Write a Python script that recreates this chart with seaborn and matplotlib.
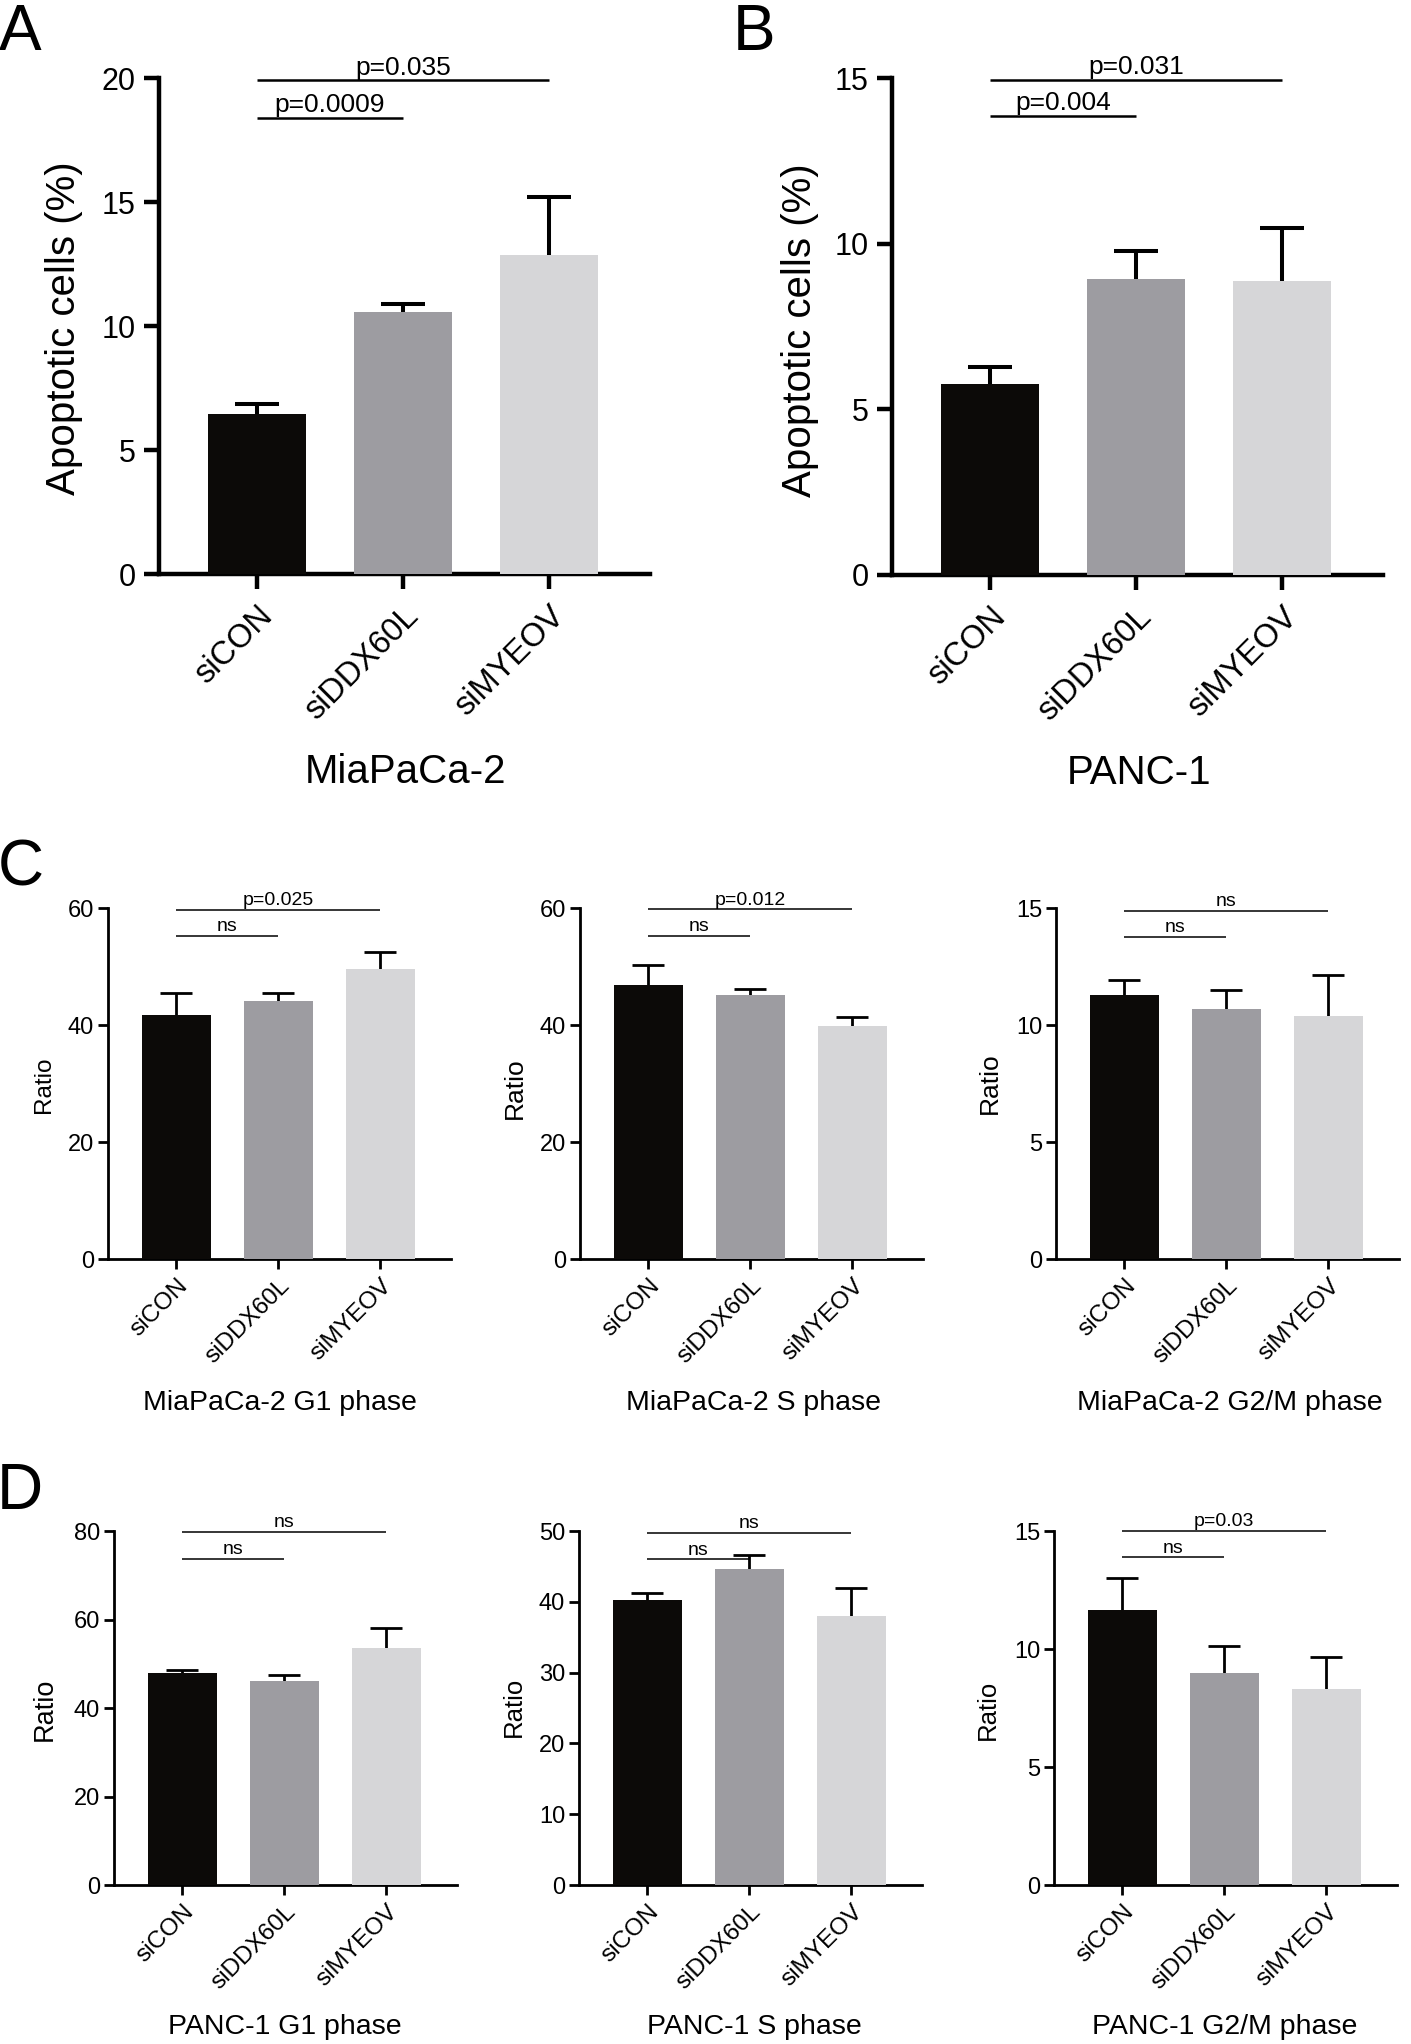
import matplotlib
matplotlib.use("Agg")
import matplotlib.pyplot as plt
import seaborn as sns
import pandas as pd

sns.set_theme(style="ticks")
plt.rcParams["font.family"] = ["Liberation Sans", "DejaVu Sans"]
plt.rcParams.update({"axes.edgecolor": "black", "text.color": "black",
                     "xtick.color": "black", "ytick.color": "black",
                     "axes.labelcolor": "black"})

# ---------------- data ----------------
groups = ["siCON", "siDDX60L", "siMYEOV"]
colors = ["#0c0a08", "#9d9ca1", "#d6d6d8"]

a_mean = [6.45, 10.57, 12.88]
a_err = [0.40, 0.32, 2.32]
a_sig = [("p=0.0009", 1, 18.4), ("p=0.035", 2, 19.9)]

b_mean = [5.77, 8.94, 8.88]
b_err = [0.50, 0.83, 1.60]
b_sig = [("p=0.004", 1, 13.85), ("p=0.031", 2, 14.95)]

c1_mean = [41.7, 44.1, 49.5]
c1_err = [3.7, 1.4, 3.0]
c1_sig = [("ns", 1, 55.2), ("p=0.025", 2, 59.7)]

c2_mean = [46.9, 45.1, 39.8]
c2_err = [3.3, 1.0, 1.5]
c2_sig = [("ns", 1, 55.2), ("p=0.012", 2, 59.75)]

c3_mean = [11.27, 10.67, 10.39]
c3_err = [0.66, 0.82, 1.73]
c3_sig = [("ns", 1, 13.77), ("ns", 2, 14.89)]

d1_mean = [47.8, 46.1, 53.5]
d1_err = [0.9, 1.3, 4.5]
d1_sig = [("ns", 1, 73.7), ("ns", 2, 79.8)]

d2_mean = [40.3, 44.6, 38.0]
d2_err = [0.9, 2.0, 4.0]
d2_sig = [("ns", 1, 46.0), ("ns", 2, 49.7)]

d3_mean = [11.64, 8.97, 8.30]
d3_err = [1.38, 1.14, 1.34]
d3_sig = [("ns", 1, 13.88), ("p=0.03", 2, 15.0)]

# ---------------- layout ----------------
W, H = 1411, 2044
fig = plt.figure(figsize=(W / 100, H / 100), dpi=100)
fig.patch.set_facecolor("white")

XL = (-0.67, 2.69)


def add_ax(left, top, bottom, unit):
    width = (XL[1] - XL[0]) * unit
    return fig.add_axes([left / W, 1 - bottom / H, width / W, (bottom - top) / H])


def ftext(x, y, s, **kw):
    fig.text(x / W, 1 - y / H, s, **kw)


BIG = dict(spine=3.2, tlen=11, twid=3.2, lsize=22, pad=6, xsize=23.5, xpad=8,
           elw=2.9, cap=16, slw=1.8, ssize=19)
SMALL = dict(spine=2.0, tlen=7, twid=2.0, lsize=17, pad=3, xsize=17.5, xpad=4,
             elw=2.0, cap=11.5, slw=1.1, ssize=14)


def panel(ax, means, errs, ymax, ystep, sig, st):
    df = pd.DataFrame({"group": groups, "value": means})
    sns.barplot(data=df, x="group", y="value", hue="group", palette=colors,
                width=0.67, saturation=1, errorbar=None, legend=False,
                ax=ax, zorder=3, linewidth=0)
    ax.errorbar(range(3), means, yerr=errs, fmt="none", ecolor="black",
                elinewidth=st["elw"], capsize=st["cap"], capthick=st["elw"],
                zorder=2)
    ax.set_xlim(*XL)
    ax.set_ylim(0, ymax)
    ax.set_yticks([ystep * i for i in range(int(round(ymax / ystep)) + 1)])
    ax.set_xticks(range(3))
    ax.set_xticklabels(groups, rotation=45, ha="right", va="top",
                       rotation_mode="anchor", fontsize=st["xsize"])
    ax.set_xlabel("")
    ax.set_ylabel("")
    sns.despine(ax=ax)
    for s in ("left", "bottom"):
        ax.spines[s].set_linewidth(st["spine"])
    ax.tick_params(axis="y", length=st["tlen"], width=st["twid"],
                   labelsize=st["lsize"], pad=st["pad"])
    ax.tick_params(axis="x", length=st["tlen"], width=st["twid"],
                   pad=st["xpad"])
    for txt, x2, y in sig:
        ax.plot([0, x2], [y, y], color="black", lw=st["slw"], clip_on=False,
                zorder=4, solid_capstyle="butt")
        ax.annotate(txt, xy=(x2 / 2, y), xytext=(0, 0.5),
                    textcoords="offset points", ha="center", va="bottom",
                    fontsize=st["ssize"], annotation_clip=False)


# Panel A
axA = add_ax(159, 78, 574, 146)
panel(axA, a_mean, a_err, 20, 5, a_sig, BIG)
ftext(64, 328, "Apoptotic cells (%)", rotation=90, ha="center", va="center", fontsize=29)
ftext(406, 772, "MiaPaCa-2", ha="center", va="center", fontsize=29)

# Panel B
axB = add_ax(892, 78, 575, 146)
panel(axB, b_mean, b_err, 15, 5, b_sig, BIG)
ftext(800, 330, "Apoptotic cells (%)", rotation=90, ha="center", va="center", fontsize=29)
ftext(1139, 773, "PANC-1", ha="center", va="center", fontsize=29)

# Row C
row_c = [
    (108, c1_mean, c1_err, 60, 20, c1_sig, "MiaPaCa-2 G1 phase", 44, 1085, 280, 17.5),
    (580, c2_mean, c2_err, 60, 20, c2_sig, "MiaPaCa-2 S phase", 515, 1088, 754, 19),
    (1056, c3_mean, c3_err, 15, 5, c3_sig, "MiaPaCa-2 G2/M phase", 990, 1083, 1230, 19),
]
for left, m, e, ymax, step, sg, title, yx, yy, tx, ysz in row_c:
    ax = add_ax(left, 908, 1259, 102)
    panel(ax, m, e, ymax, step, sg, SMALL)
    ftext(yx, yy, "Ratio", rotation=90, ha="center", va="center", fontsize=ysz)
    ftext(tx, 1403, title, ha="center", va="center", fontsize=20.5)

# Row D
row_d = [
    (114, d1_mean, d1_err, 80, 20, d1_sig, "PANC-1 G1 phase", 45, 1709, 285, 19.5),
    (579, d2_mean, d2_err, 50, 10, d2_sig, "PANC-1 S phase", 514, 1707, 754, 18.5),
    (1054, d3_mean, d3_err, 15, 5, d3_sig, "PANC-1 G2/M phase", 988, 1710, 1225, 18.5),
]
for left, m, e, ymax, step, sg, title, yx, yy, tx, ysz in row_d:
    ax = add_ax(left, 1531, 1885, 102)
    panel(ax, m, e, ymax, step, sg, SMALL)
    ftext(yx, yy, "Ratio", rotation=90, ha="center", va="center", fontsize=ysz)
    ftext(tx, 2027, title, ha="center", va="center", fontsize=20.5)

# Panel letters
ftext(-1, 50, "A", ha="left", va="baseline", fontsize=46)
ftext(733, 50, "B", ha="left", va="baseline", fontsize=46)
ftext(-2, 886, "C", ha="left", va="baseline", fontsize=46)
ftext(-3, 1509, "D", ha="left", va="baseline", fontsize=46)

fig.savefig("out.png", dpi=100)
